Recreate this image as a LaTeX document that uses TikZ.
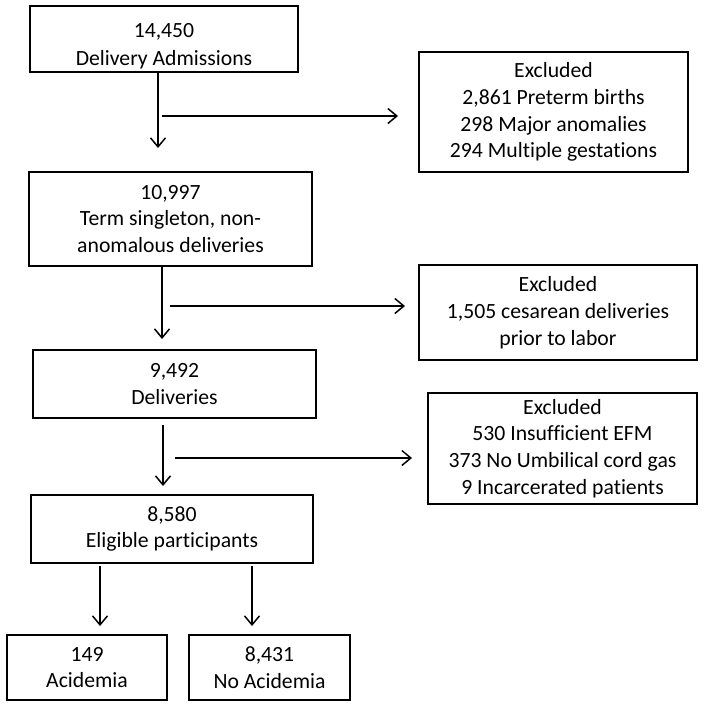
\documentclass[tikz,border=0pt]{standalone}
\usepackage{fontspec}
\setmainfont[Ligatures=CommonOff]{Carlito}
\usetikzlibrary{arrows.meta}
\begin{document}
\begin{tikzpicture}[x=1pt,y=-1pt,
  box/.style={draw=black, line width=1.5pt, align=center, inner sep=0pt,
    font=\fontsize{21.7pt}{26.8pt}\selectfont},
  conn/.style={line width=1.5pt, -{Straight Barb[length=9pt,width=15pt,line width=1.5pt]}}]
\useasboundingbox (0,0) rectangle (704,707);
% main column
\node[box, minimum width=268pt, minimum height=66pt] (b1) at (164,39) {\rule{0pt}{28pt}14,450\\[1pt]Delivery Admissions};
\node[box, minimum width=283pt, minimum height=94pt] (b2) at (170.5,219) {10,997\\Term singleton, non-\\anomalous deliveries};
\node[box, minimum width=283pt, minimum height=68pt] (b3) at (174.5,384) {9,492\\Deliveries};
\node[box, minimum width=282pt, minimum height=68pt] (b4) at (172,529) {8,580\\Eligible participants};
\node[box, minimum width=160pt, minimum height=65pt] (a1) at (87,667.5) {149\\Acidemia};
\node[box, minimum width=161pt, minimum height=65pt] (a2) at (269.5,667.5) {8,431\\No Acidemia};
% exclusion boxes
\node[box, minimum width=269pt, minimum height=120pt] (e1) at (553.5,112) {Excluded\\2,861 Preterm births\\298 Major anomalies\\294 Multiple gestations};
\node[box, minimum width=278pt, minimum height=95pt] (e2) at (558,312.5) {Excluded\\1,505 cesarean deliveries\\prior to labor};
\node[box, minimum width=269pt, minimum height=111pt] (e3) at (562.5,448.5) {Excluded\\530 Insufficient EFM\\373 No Umbilical cord gas\\9 Incarcerated patients};
% free ends
\coordinate (d1s) at (158,72);  \coordinate (d1e) at (158,148);
\coordinate (h1s) at (162,116); \coordinate (h1e) at (398,116);
\coordinate (d2s) at (162,266); \coordinate (d2e) at (162,339);
\coordinate (h2s) at (170,306); \coordinate (h2e) at (405,306);
\coordinate (d3s) at (163,425); \coordinate (d3e) at (163,486);
\coordinate (h3s) at (175,458); \coordinate (h3e) at (412,458);
\coordinate (d4s) at (100,566); \coordinate (d4e) at (100,626);
\coordinate (d5s) at (252,566); \coordinate (d5e) at (252,626);
\draw[conn] (d1s) -- (d1e);
\draw[conn] (h1s) -- (h1e);
\draw[conn] (d2s) -- (d2e);
\draw[conn] (h2s) -- (h2e);
\draw[conn] (d3s) -- (d3e);
\draw[conn] (h3s) -- (h3e);
\draw[conn] (d4s) -- (d4e);
\draw[conn] (d5s) -- (d5e);
\end{tikzpicture}
\end{document}
